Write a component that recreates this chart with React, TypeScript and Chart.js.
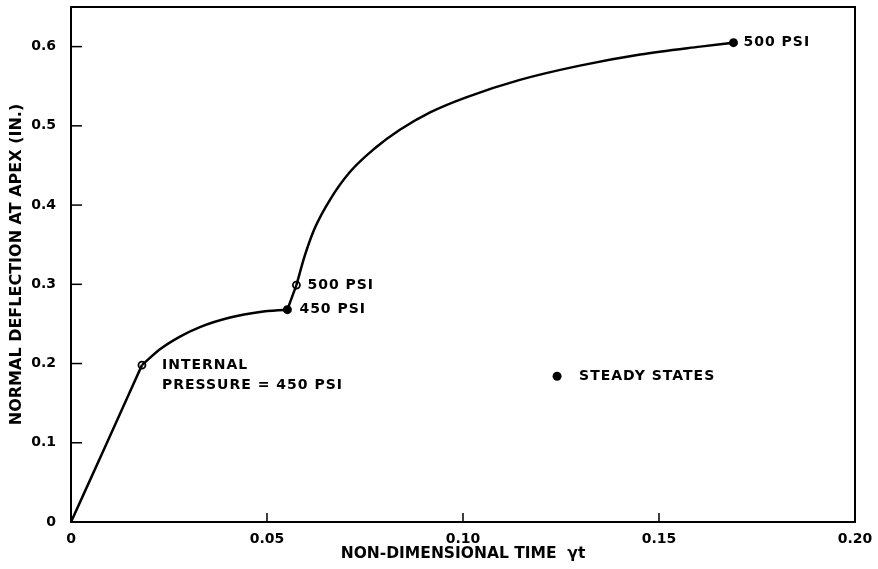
import React, { useEffect, useRef } from "react";
import { Chart, registerables } from "chart.js";

Chart.register(...registerables);

// Curve segments (non-dimensional time, deflection)
const seg1X = [0, 0.009, 0.0181];
const seg1Y = [0, 0.098, 0.198];
const seg2X = [0.0181, 0.0227, 0.0278, 0.0329, 0.0406, 0.0482, 0.0552];
const seg2Y = [0.198, 0.218, 0.234, 0.246, 0.258, 0.265, 0.268];
const seg3X = [0.0552, 0.0575];
const seg3Y = [0.268, 0.299];
const seg4X = [0.0575, 0.0597, 0.0622, 0.0661, 0.0712, 0.0776, 0.0839, 0.0916, 0.1008, 0.1145, 0.1298, 0.1452, 0.1605, 0.169];
const seg4Y = [0.299, 0.337, 0.371, 0.407, 0.442, 0.472, 0.495, 0.517, 0.536, 0.558, 0.576, 0.59, 0.6, 0.605];

// Marked points
const openX = [0.0181, 0.0575];
const openY = [0.198, 0.299];
const filledX = [0.0552, 0.169];
const filledY = [0.268, 0.605];
const legendX = [0.124];
const legendY = [0.184];

// Annotations
const labelTexts = ["INTERNAL", "PRESSURE = 450 PSI", "500 PSI", "450 PSI", "500 PSI", "STEADY STATES"];
const labelX = [0.0181, 0.0181, 0.0575, 0.0552, 0.169, 0.124];
const labelY = [0.198, 0.198, 0.299, 0.268, 0.605, 0.184];
const labelDx = [20, 20, 11, 12, 10, 22];
const labelDy = [0, 20, 0, 0, 0, 0];

// Axes
const xTicks = [0, 0.05, 0.1, 0.15, 0.2];
const xTickLabels = ["0", "0.05", "0.10", "0.15", "0.20"];
const yTicks = [0, 0.1, 0.2, 0.3, 0.4, 0.5, 0.6];
const yTickLabels = ["0", "0.1", "0.2", "0.3", "0.4", "0.5", "0.6"];
const xTitle = "NON-DIMENSIONAL TIME  \u03b3t";
const yTitle = "NORMAL DEFLECTION AT APEX (IN.)";

const FONT = "'DejaVu Sans', sans-serif";

const toPts = (xs: number[], ys: number[]) => xs.map((x, i) => ({ x, y: ys[i] }));

const framePlugin = {
  id: "frame",
  afterDraw(chart: any) {
    const { ctx, chartArea } = chart;
    const xs = chart.scales.x;
    const ys = chart.scales.y;
    ctx.save();
    ctx.strokeStyle = "#000";
    ctx.lineWidth = 2;
    ctx.beginPath();
    ctx.moveTo(chartArea.left, chartArea.top);
    ctx.lineTo(chartArea.right, chartArea.top);
    ctx.lineTo(chartArea.right, chartArea.bottom);
    ctx.stroke();
    // inward ticks
    ctx.lineWidth = 1.5;
    yTicks.forEach((v) => {
      if (v === 0) return;
      const py = ys.getPixelForValue(v);
      ctx.beginPath();
      ctx.moveTo(chartArea.left, py);
      ctx.lineTo(chartArea.left + 11, py);
      ctx.stroke();
    });
    xTicks.forEach((v) => {
      if (v === 0 || v === 0.2) return;
      const px = xs.getPixelForValue(v);
      ctx.beginPath();
      ctx.moveTo(px, chartArea.bottom);
      ctx.lineTo(px, chartArea.bottom - 9);
      ctx.stroke();
    });
    // annotations
    ctx.fillStyle = "#000";
    ctx.font = "bold 14px " + FONT;
    (ctx as any).letterSpacing = "1px";
    ctx.textAlign = "left";
    ctx.textBaseline = "middle";
    labelTexts.forEach((t, i) => {
      const px = xs.getPixelForValue(labelX[i]) + labelDx[i];
      const py = ys.getPixelForValue(labelY[i]) + labelDy[i];
      ctx.fillText(t, px, py);
    });
    (ctx as any).letterSpacing = "0px";
    ctx.restore();
  },
};

export default function App() {
  const ref = useRef<HTMLCanvasElement | null>(null);
  useEffect(() => {
    document.body.style.margin = "0";
    if (!ref.current) return;
    const lineDs = (xs: number[], ys: number[]) => ({
      data: toPts(xs, ys),
      showLine: true,
      borderColor: "#000",
      borderWidth: 2.5,
      pointRadius: 0,
      cubicInterpolationMode: "monotone" as const,
      fill: false,
    });
    const chart = new Chart(ref.current, {
      type: "scatter",
      data: {
        datasets: [
          lineDs(seg1X, seg1Y),
          lineDs(seg2X, seg2Y),
          lineDs(seg3X, seg3Y),
          lineDs(seg4X, seg4Y),
          {
            data: toPts(openX, openY),
            pointRadius: 3.5,
            pointBackgroundColor: "#fff",
            pointBorderColor: "#000",
            pointBorderWidth: 1.8,
          },
          {
            data: toPts(filledX, filledY),
            pointRadius: 4.5,
            pointBackgroundColor: "#000",
            pointBorderColor: "#000",
            pointBorderWidth: 0,
          },
          {
            data: toPts(legendX, legendY),
            pointRadius: 4.5,
            pointBackgroundColor: "#000",
            pointBorderColor: "#000",
            pointBorderWidth: 0,
          },
        ],
      },
      options: {
        animation: false,
        responsive: false,
        maintainAspectRatio: false,
        layout: { padding: { top: 7, right: 23, left: 0, bottom: 0 } },
        plugins: { legend: { display: false }, tooltip: { enabled: false } },
        scales: {
          x: {
            type: "linear",
            min: 0,
            max: 0.2,
            afterBuildTicks: (s: any) => {
              s.ticks = xTicks.map((v) => ({ value: v }));
            },
            afterFit: (s: any) => {
              s.height = 47;
              s.paddingLeft = 0;
              s.paddingRight = 0;
            },
            grid: { display: true, drawOnChartArea: false, drawTicks: false },
            border: { display: true, color: "#000", width: 2 },
            ticks: {
              padding: 9,
              color: "#000",
              font: { family: FONT, size: 14, weight: "bold" },
              maxRotation: 0,
              callback: (v: any) => {
                const i = xTicks.findIndex((t) => Math.abs(t - Number(v)) < 1e-9);
                return i >= 0 ? xTickLabels[i] : "";
              },
            },
            title: {
              display: true,
              text: xTitle,
              color: "#000",
              font: { family: FONT, size: 15.5, weight: "bold" },
              padding: { top: 0, bottom: 6 },
            },
          },
          y: {
            type: "linear",
            min: 0,
            max: 0.65,
            afterBuildTicks: (s: any) => {
              s.ticks = yTicks.map((v) => ({ value: v }));
            },
            afterFit: (s: any) => {
              s.width = 71;
              s.paddingTop = 0;
              s.paddingBottom = 0;
            },
            grid: { display: true, drawOnChartArea: false, drawTicks: false },
            border: { display: true, color: "#000", width: 2 },
            ticks: {
              padding: 15,
              color: "#000",
              font: { family: FONT, size: 14, weight: "bold" },
              callback: (v: any) => {
                const i = yTicks.findIndex((t) => Math.abs(t - Number(v)) < 1e-9);
                return i >= 0 ? yTickLabels[i] : "";
              },
            },
            title: {
              display: true,
              text: yTitle,
              color: "#000",
              font: { family: FONT, size: 16, weight: "bold" },
              padding: { top: 7, bottom: 0 },
            },
          },
        },
      },
      plugins: [framePlugin],
    });
    return () => chart.destroy();
  }, []);
  return (
    <div style={{ width: 878, height: 569 }}>
      <canvas ref={ref} width={878} height={569} style={{ display: "block" }} />
    </div>
  );
}
